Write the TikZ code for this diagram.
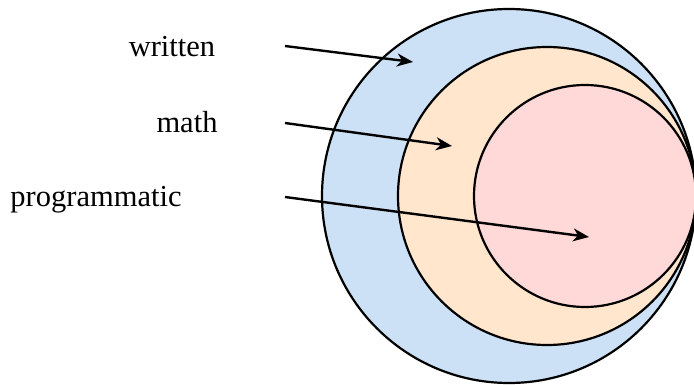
\documentclass[tikz,border=0pt]{standalone}
\usepackage{fontspec}
\setmainfont{Liberation Serif}
\usetikzlibrary{arrows.meta}
\definecolor{cblue}{HTML}{CCE1F5}
\definecolor{cpeach}{HTML}{FFE6CD}
\definecolor{cpink}{HTML}{FFD8D8}
\begin{document}
\begin{tikzpicture}[x=1pt,y=-1pt,
  ring/.style={circle,draw=black,line width=2.2pt,inner sep=0pt},
  lbl/.style={anchor=base,inner sep=0pt,font=\fontsize{30.5}{36}\selectfont},
  conn/.style={line width=2.4pt,-{Stealth[length=16pt,width=13pt,inset=5pt]}}]
\useasboundingbox (0,0) rectangle (694,385);
\node[ring,fill=cblue,minimum size=374pt] (outer) at (509,196) {};
\node[ring,fill=cpeach,minimum size=298pt] (middle) at (547,196) {};
\node[ring,fill=cpink,minimum size=222pt] (inner) at (585,196) {};
\node[lbl] (written) at (172,57) {written};
\node[lbl] (math) at (187,133) {math};
\node[lbl] (prog) at (96,207) {programmatic};
\coordinate (ws) at (285,46);
\coordinate (we) at (413,62);
\coordinate (ms) at (285,123);
\coordinate (me) at (452,146);
\coordinate (ps) at (285,197);
\coordinate (pe) at (589,237);
\draw[conn] (ws) -- (we);
\draw[conn] (ms) -- (me);
\draw[conn] (ps) -- (pe);
\end{tikzpicture}
\end{document}
